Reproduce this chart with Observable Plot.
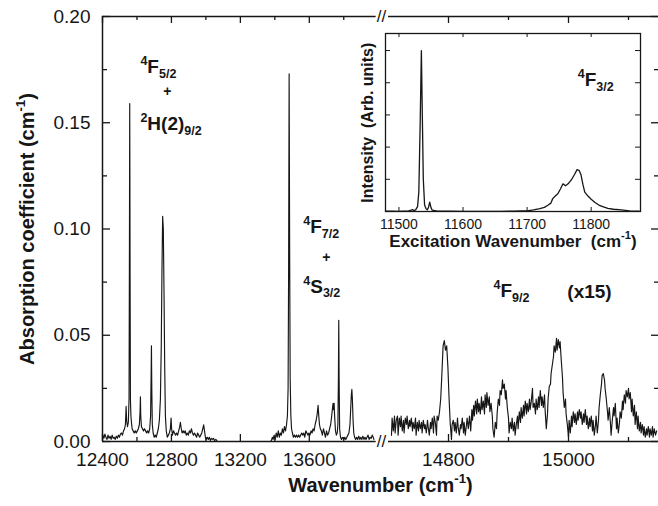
<!DOCTYPE html>
<html><head><meta charset="utf-8">
<script src="https://cdn.jsdelivr.net/npm/d3@7"></script>
<script src="https://cdn.jsdelivr.net/npm/@observablehq/plot@0.6"></script>
<style>
html,body{margin:0;padding:0;background:#fff;}
#wrap{position:relative;width:658px;height:506px;overflow:hidden;}
#wrap svg{position:absolute;overflow:visible;}
</style></head><body><div id="wrap"></div>
<script>
// ---- data: absorption, 12400-14000 cm-1 ----
const lowBand = [
[12402,0.003],[12408,0.0015],[12414,0.0035],[12420,0.002],[12426,0.001],[12432,0.003],[12438,0.0015],[12444,0.0025],
[12450,0.001],[12456,0.003],[12462,0.0015],[12468,0.002],[12474,0.001],[12480,0.0025],[12486,0.0015],[12492,0.003],
[12498,0.002],[12504,0.0035],[12510,0.004],[12516,0.003],[12522,0.005],[12528,0.006],[12533,0.008],[12537,0.0165],
[12540,0.010],[12545,0.007],[12550,0.009],[12554,0.02],[12556,0.08],[12558,0.159],[12560,0.08],[12562,0.02],
[12565,0.012],[12568,0.009],[12572,0.006],[12578,0.005],[12584,0.004],[12590,0.005],[12596,0.004],[12602,0.005],
[12608,0.006],[12614,0.008],[12618,0.014],[12620,0.021],[12622,0.012],[12626,0.007],[12632,0.006],[12638,0.005],
[12644,0.006],[12650,0.005],[12656,0.004],[12662,0.005],[12668,0.004],[12674,0.006],[12679,0.012],[12682,0.03],
[12684,0.045],[12686,0.025],[12689,0.008],[12694,0.004],[12700,0.002],[12706,0.003],[12712,0.002],[12718,0.004],
[12724,0.006],[12730,0.01],[12736,0.02],[12741,0.045],[12745,0.08],[12749,0.106],[12753,0.1],[12757,0.07],
[12761,0.035],[12765,0.012],[12770,0.005],[12776,0.002],[12782,0.003],[12788,0.004],[12794,0.006],[12798,0.011],
[12801,0.006],[12806,0.003],[12812,0.005],[12818,0.004],[12824,0.003],[12830,0.004],[12836,0.003],[12842,0.005],
[12848,0.007],[12852,0.009],[12857,0.006],[12862,0.004],[12868,0.005],[12874,0.004],[12880,0.005],[12886,0.003],
[12892,0.004],[12898,0.003],[12904,0.005],[12910,0.004],[12916,0.006],[12922,0.004],[12928,0.003],[12934,0.004],
[12940,0.003],[12946,0.002],[12952,0.004],[12958,0.003],[12964,0.002],[12970,0.003],[12976,0.004],[12982,0.006],
[12987,0.0078],[12992,0.005],[12997,0.002],[13002,0.001],[13008,0.002],[13014,0.001],[13020,0.002],[13026,0.0005],
[13032,0.0015],[13038,0.001],[13044,0.0015],[13050,0.0005],[13058,0.001],[13066,0],[13150,0],[13250,0],[13375,0],
[13380,0.0005],[13386,0.002],[13390,0.001],[13396,0.003],[13402,0.001],[13408,0.004],[13414,0.002],[13420,0.005],
[13426,0.002],[13432,0.004],[13438,0.003],[13444,0.006],[13450,0.004],[13456,0.007],[13462,0.005],[13468,0.008],
[13473,0.012],[13477,0.025],[13480,0.08],[13483,0.173],[13486,0.09],[13489,0.03],[13493,0.012],[13497,0.006],
[13502,0.004],[13508,0.002],[13514,0.003],[13520,0.002],[13526,0.003],[13532,0.002],[13538,0.003],[13544,0.002],
[13550,0.003],[13556,0.004],[13562,0.003],[13568,0.004],[13574,0.002],[13580,0.005],[13586,0.004],[13592,0.003],
[13598,0.004],[13604,0.003],[13610,0.005],[13616,0.004],[13622,0.006],[13628,0.005],[13634,0.008],[13640,0.01],
[13646,0.013],[13651,0.017],[13655,0.012],[13659,0.008],[13664,0.006],[13670,0.005],[13676,0.003],[13682,0.006],
[13688,0.004],[13694,0.002],[13700,0.005],[13706,0.003],[13712,0.004],[13718,0.006],[13724,0.008],[13730,0.012],
[13735,0.016],[13738,0.018],[13741,0.015],[13744,0.018],[13747,0.012],[13752,0.005],[13757,0.003],[13762,0.004],
[13766,0.008],[13769,0.03],[13771,0.057],[13773,0.03],[13776,0.006],[13781,0.002],[13787,0.001],[13793,0.002],
[13800,0.001],[13806,0.002],[13812,0.001],[13818,0.002],[13824,0.003],[13830,0.004],[13836,0.008],[13840,0.015],
[13844,0.022],[13847,0.0245],[13850,0.02],[13854,0.01],[13858,0.004],[13863,0.002],[13869,0.001],[13875,0.002],
[13881,0.001],[13887,0.0025],[13893,0.001],[13899,0.002],[13905,0.001],[13911,0.0025],[13917,0.001],[13923,0.002],
[13929,0.001],[13935,0.002],[13941,0.003],[13947,0.001],[13953,0.002],[13959,0.0015],[13965,0.003],[13971,0.002],[13975,0.001]
];
// ---- data: 4F9/2 band (displayed x15) ----
const highBand = [
[14705,0.003],[14706,0.011],[14708,0.005],[14710,0.012],[14711,0.004],[14713,0.010],[14715,0.012],[14716,0.003],
[14718,0.011],[14720,0.007],[14721,0.012],[14723,0.005],[14725,0.010],[14726,0.004],[14728,0.011],[14730,0.008],
[14731,0.012],[14733,0.006],[14735,0.010],[14736,0.007],[14738,0.011],[14740,0.005],[14741,0.009],[14743,0.006],
[14745,0.011],[14746,0.003],[14748,0.009],[14750,0.005],[14751,0.010],[14753,0.006],[14755,0.009],[14756,0.004],
[14758,0.010],[14760,0.006],[14761,0.008],[14763,0.004],[14765,0.010],[14766,0.007],[14768,0.003],[14770,0.009],
[14771,0.006],[14773,0.011],[14775,0.004],[14776,0.012],[14778,0.009],[14780,0.003],[14781,0.012],[14783,0.010],
[14785,0.014],[14787,0.02],[14789,0.032],[14791,0.045],[14793,0.0475],[14795,0.043],[14797,0.045],[14799,0.035],
[14801,0.02],[14803,0.008],[14805,0.001],[14806,0.008],[14808,0.010],[14810,0.005],[14811,0.009],[14813,0.004],
[14815,0.011],[14816,0.007],[14818,0.003],[14820,0.008],[14821,0.006],[14823,0.011],[14825,0.004],[14826,0.009],
[14828,0.003],[14830,0.008],[14831,0.011],[14833,0.006],[14835,0.012],[14837,0.005],[14839,0.015],[14840,0.010],
[14842,0.017],[14843,0.012],[14845,0.019],[14847,0.013],[14848,0.02],[14850,0.014],[14851,0.018],[14853,0.013],
[14855,0.021],[14856,0.015],[14858,0.019],[14860,0.013],[14861,0.022],[14863,0.016],[14864,0.023],[14866,0.017],
[14868,0.021],[14869,0.014],[14871,0.018],[14873,0.012],[14874,0.006],[14876,0.002],[14878,0.009],[14880,0.006],
[14881,0.013],[14883,0.02],[14885,0.017],[14886,0.024],[14888,0.022],[14890,0.029],[14891,0.025],[14893,0.027],
[14895,0.02],[14896,0.024],[14898,0.016],[14900,0.011],[14901,0.004],[14903,0.009],[14905,0.006],[14906,0.011],
[14908,0.005],[14910,0.009],[14911,0.003],[14913,0.008],[14915,0.012],[14916,0.006],[14918,0.014],[14920,0.009],
[14921,0.016],[14923,0.011],[14925,0.017],[14926,0.012],[14928,0.019],[14930,0.013],[14931,0.018],[14933,0.014],
[14935,0.02],[14936,0.015],[14938,0.019],[14940,0.025],[14941,0.016],[14943,0.018],[14945,0.013],[14946,0.02],
[14948,0.015],[14950,0.021],[14951,0.016],[14953,0.024],[14955,0.017],[14956,0.021],[14958,0.016],[14960,0.022],
[14961,0.015],[14963,0.006],[14965,0.013],[14966,0.02],[14968,0.026],[14970,0.027],[14971,0.032],[14973,0.036],
[14975,0.04],[14976,0.045],[14978,0.042],[14980,0.0485],[14981,0.043],[14983,0.048],[14985,0.044],[14986,0.047],
[14988,0.038],[14990,0.03],[14991,0.023],[14993,0.016],[14995,0.02],[14996,0.013],[14998,0.008],[15000,0.002],
[15001,0.01],[15003,0.004],[15005,0.012],[15006,0.007],[15008,0.014],[15010,0.009],[15011,0.013],[15013,0.008],
[15015,0.014],[15016,0.01],[15018,0.015],[15020,0.011],[15021,0.014],[15023,0.008],[15025,0.013],[15026,0.009],
[15028,0.015],[15030,0.008],[15031,0.012],[15033,0.006],[15035,0.011],[15036,0.007],[15038,0.012],[15040,0.005],
[15041,0.010],[15043,0.003],[15045,0.008],[15046,0.012],[15048,0.004],[15050,0.010],[15051,0.016],[15053,0.022],
[15055,0.027],[15056,0.031],[15058,0.032],[15060,0.029],[15061,0.025],[15063,0.02],[15065,0.014],[15066,0.01],
[15068,0.016],[15070,0.008],[15071,0.003],[15073,0.01],[15075,0.016],[15076,0.012],[15078,0.018],[15080,0.006],
[15081,0.011],[15083,0.004],[15085,0.009],[15086,0.014],[15088,0.011],[15090,0.019],[15091,0.015],[15093,0.022],
[15095,0.018],[15096,0.024],[15098,0.021],[15100,0.025],[15101,0.02],[15103,0.023],[15105,0.014],[15106,0.02],
[15108,0.012],[15110,0.017],[15111,0.008],[15113,0.014],[15115,0.006],[15116,0.012],[15118,0.005],[15120,0.009],
[15121,0.004],[15123,0.008],[15125,0.003],[15126,0.007],[15128,0.002],[15130,0.006],[15131,0.003],[15133,0.007],
[15135,0.002],[15136,0.006],[15138,0.003],[15140,0.007],[15141,0.002],[15143,0.006],[15145,0.003],[15147,0.005]
];
// ---- inset: excitation spectrum of 4F3/2 ----
const insetSpectrum = [
[11480,0.01],[11490,0.01],[11500,0.005],[11505,0.01],[11510,0.01],[11515,0.02],[11519,0.04],[11521,0.06],[11523,0.03],
[11526,0.05],[11529,0.15],[11531,0.6],[11533,2.6],[11535,5.0],[11536,3.6],[11538,1.0],[11540,0.2],[11542,0.1],
[11544,0.05],[11546,0.12],[11548,0.29],[11550,0.12],[11552,0.04],[11556,0.03],[11560,0.01],[11570,0.01],[11580,0.01],
[11600,0.005],[11620,0.005],[11640,0.005],[11660,0.005],[11680,0.01],[11690,0.015],[11700,0.02],[11710,0.05],
[11720,0.09],[11727,0.13],[11733,0.2],[11737,0.26],[11740,0.4],[11744,0.48],[11748,0.55],[11752,0.7],[11756,0.86],
[11760,0.8],[11764,0.86],[11769,0.98],[11774,1.15],[11778,1.30],[11781,1.28],[11784,1.15],[11787,0.85],[11790,0.6],
[11795,0.48],[11800,0.38],[11806,0.28],[11812,0.2],[11818,0.15],[11826,0.1],[11835,0.07],[11847,0.05],[11860,0.02],[11875,0.01]
];
// ---- axes ----
const xMajorTicks = [12400, 12800, 13200, 13600, 14800, 15000];
const xTickLabels = ["12400", "12800", "13200", "13600", "14800", "15000"];
const xMinorTicks = [12600, 13000, 13400, 13800, 14900, 15100];
const yMajorTicks = [0, 0.05, 0.10, 0.15, 0.20];
const yTickLabels = ["0.00", "0.05", "0.10", "0.15", "0.20"];
const yMinorTicks = [0.025, 0.075, 0.125, 0.175];
const axisSegments = [[12400, 13988], [14700, 15150]];
const insetXTicks = [11500, 11600, 11700, 11800];
const insetXTickLabels = ["11500", "11600", "11700", "11800"];
const insetYTicks = [1, 2, 3, 4, 5];
const xTitle = "Wavenumber (cm^{-1})";
const yTitle = "Absorption coefficient (cm^{-1})";
const insetXTitle = "Excitation Wavenumber  (cm^{-1})";
const insetYTitle = "Intensity  (Arb. units)";
const annotations = [
  {t: "^{4}F_{5/2}", x: 12620, y: 0.1736, size: 19},
  {t: "+", x: 12752, y: 0.1625, size: 14},
  {t: "^{2}H(2)_{9/2}", x: 12620, y: 0.1464, size: 19},
  {t: "^{4}F_{7/2}", x: 13565, y: 0.0979, size: 19},
  {t: "+", x: 13675, y: 0.0845, size: 14},
  {t: "^{4}S_{3/2}", x: 13565, y: 0.0701, size: 19},
  {t: "^{4}F_{9/2}", x: 14875, y: 0.0678, size: 19},
  {t: "(x15)", x: 14998, y: 0.0673, size: 19}
];
const insetAnnotations = [{t: "^{4}F_{3/2}", x: 11779, y: 3.91}];

const ink = "#161616";
const font = "'Liberation Sans', Arial, Helvetica, sans-serif";

const main = Plot.plot({
  width: 658, height: 506,
  marginLeft: 102, marginRight: 0, marginTop: 16, marginBottom: 65,
  style: {fontFamily: font, color: ink, background: "transparent", overflow: "visible"},
  x: {type: "linear", domain: [12400, 13990, 14690, 15150], range: [102, 376, 382, 658], axis: null},
  y: {domain: [0, 0.2], axis: null},
  marks: [
    Plot.line(lowBand, {x: d => d[0], y: d => d[1], stroke: ink, strokeWidth: 1.15}),
    Plot.line(highBand, {x: d => d[0], y: d => d[1], stroke: ink, strokeWidth: 1.15}),
    // frame
    Plot.ruleX([12400], {stroke: ink, strokeWidth: 1.5}),
    Plot.ruleY(axisSegments, {y: 0, x1: d => d[0], x2: d => d[1], stroke: ink, strokeWidth: 1.5}),
    Plot.ruleY(axisSegments, {y: 0.2, x1: d => d[0], x2: d => d[1], stroke: ink, strokeWidth: 1.5}),
    // inward ticks
    Plot.ruleX(xMajorTicks, {x: d => d, insetTop: 418, stroke: ink, strokeWidth: 1.3}),
    Plot.ruleX(xMajorTicks, {x: d => d, insetBottom: 418, stroke: ink, strokeWidth: 1.3}),
    Plot.ruleX(xMinorTicks, {x: d => d, insetTop: 421, stroke: ink, strokeWidth: 1.3}),
    Plot.ruleX(xMinorTicks, {x: d => d, insetBottom: 421, stroke: ink, strokeWidth: 1.3}),
    Plot.ruleY(yMajorTicks, {y: d => d, insetRight: 548, stroke: ink, strokeWidth: 1.3}),
    Plot.ruleY(yMajorTicks, {y: d => d, insetLeft: 549, stroke: ink, strokeWidth: 1.3}),
    Plot.ruleY(yMinorTicks, {y: d => d, insetRight: 551, stroke: ink, strokeWidth: 1.3}),
    Plot.ruleY(yMinorTicks, {y: d => d, insetLeft: 552, stroke: ink, strokeWidth: 1.3}),
    // axis break marks
    Plot.text(["//"], {x: 14573, frameAnchor: "bottom", fontSize: 17, lineAnchor: "middle", fill: ink}),
    Plot.text(["//"], {x: 14573, frameAnchor: "top", fontSize: 17, lineAnchor: "middle", fill: ink}),
    // tick labels
    Plot.text(xMajorTicks, {x: d => d, text: (d, i) => xTickLabels[i], frameAnchor: "bottom", textAnchor: "middle", lineAnchor: "bottom", dy: 24, fontSize: 19, fill: ink}),
    Plot.text(yMajorTicks, {y: d => d, text: (d, i) => yTickLabels[i], frameAnchor: "left", textAnchor: "end", lineAnchor: "middle", dx: -12, fontSize: 19, fill: ink}),
    // axis titles
    Plot.text([xTitle], {frameAnchor: "bottom", textAnchor: "middle", lineAnchor: "bottom", dy: 50, fontSize: 20, fontWeight: "bold", fill: ink}),
    Plot.text([yTitle], {y: () => 0.1, frameAnchor: "left", textAnchor: "middle", rotate: -90, lineAnchor: "bottom", dx: -69, fontSize: 20, fontWeight: "bold", fill: ink}),
    // annotations
    Plot.text(annotations, {x: "x", y: "y", text: "t", fontSize: "size", textAnchor: "start", lineAnchor: "bottom", fontWeight: "bold", fill: ink})
  ]
});

const inset = Plot.plot({
  width: 310, height: 240,
  marginLeft: 45, marginRight: 10, marginTop: 13, marginBottom: 49,
  style: {fontFamily: font, color: ink, background: "transparent", overflow: "visible"},
  x: {domain: [11479, 11877], axis: null},
  y: {domain: [0, 5.53], axis: null},
  marks: [
    Plot.frame({stroke: ink, strokeWidth: 1.3}),
    Plot.ruleX(insetXTicks, {x: d => d, insetTop: 174, stroke: ink}),
    Plot.ruleX(insetXTicks, {x: d => d, insetBottom: 174, stroke: ink}),
    Plot.ruleY(insetYTicks, {y: d => d, insetRight: 250, stroke: ink}),
    Plot.ruleY(insetYTicks, {y: d => d, insetLeft: 250, stroke: ink}),
    Plot.line(insetSpectrum, {x: d => d[0], y: d => d[1], stroke: ink, strokeWidth: 1.3}),
    Plot.text(insetXTicks, {x: d => d, text: (d, i) => insetXTickLabels[i], frameAnchor: "bottom", textAnchor: "middle", lineAnchor: "bottom", dy: 17, fontSize: 14, fill: ink}),
    Plot.text([insetXTitle], {frameAnchor: "bottom", textAnchor: "middle", lineAnchor: "bottom", dy: 35, fontSize: 17, fontWeight: "bold", fill: ink}),
    Plot.text([insetYTitle], {y: () => 2.76, frameAnchor: "left", textAnchor: "middle", rotate: -90, lineAnchor: "bottom", dx: -13, fontSize: 16, fontWeight: "bold", fill: ink}),
    Plot.text(insetAnnotations, {x: "x", y: "y", text: "t", fontSize: 19, textAnchor: "start", lineAnchor: "bottom", fontWeight: "bold", fill: ink})
  ]
});

const wrap = document.getElementById("wrap");
main.style.left = "0px"; main.style.top = "0px";
inset.style.left = "340px"; inset.style.top = "20px";
wrap.appendChild(main);
wrap.appendChild(inset);

// turn ^{..} and _{..} markup into real superscript / subscript tspans
function richify(svg) {
  const NS = "http://www.w3.org/2000/svg";
  svg.querySelectorAll("text").forEach(t => {
    const s = t.textContent;
    if (!/[\^_]\{/.test(s)) return;
    const fs = parseFloat(getComputedStyle(t).fontSize);
    const dyAttr = t.getAttribute("dy");
    let base = 0;
    if (dyAttr) base = dyAttr.endsWith("em") ? parseFloat(dyAttr) * fs : parseFloat(dyAttr);
    const parts = [];
    const re = /([\^_])\{([^}]*)\}|([^\^_]+)/g;
    let m;
    while ((m = re.exec(s))) {
      if (m[3] !== undefined) parts.push({t: m[3], k: 0});
      else parts.push({t: m[2], k: m[1] === "^" ? 1 : -1});
    }
    t.textContent = "";
    let cur = 0, first = true;
    for (const p of parts) {
      const ts = document.createElementNS(NS, "tspan");
      const target = p.k === 1 ? -0.42 * fs : p.k === -1 ? 0.26 * fs : 0;
      const d = target - cur + (first ? base : 0);
      if (d !== 0 || first) ts.setAttribute("dy", d);
      cur = target; first = false;
      if (p.k) ts.setAttribute("font-size", (0.66 * fs).toFixed(1));
      ts.textContent = p.t;
      t.appendChild(ts);
    }
  });
}
richify(main);
richify(inset);
</script>
</body></html>
